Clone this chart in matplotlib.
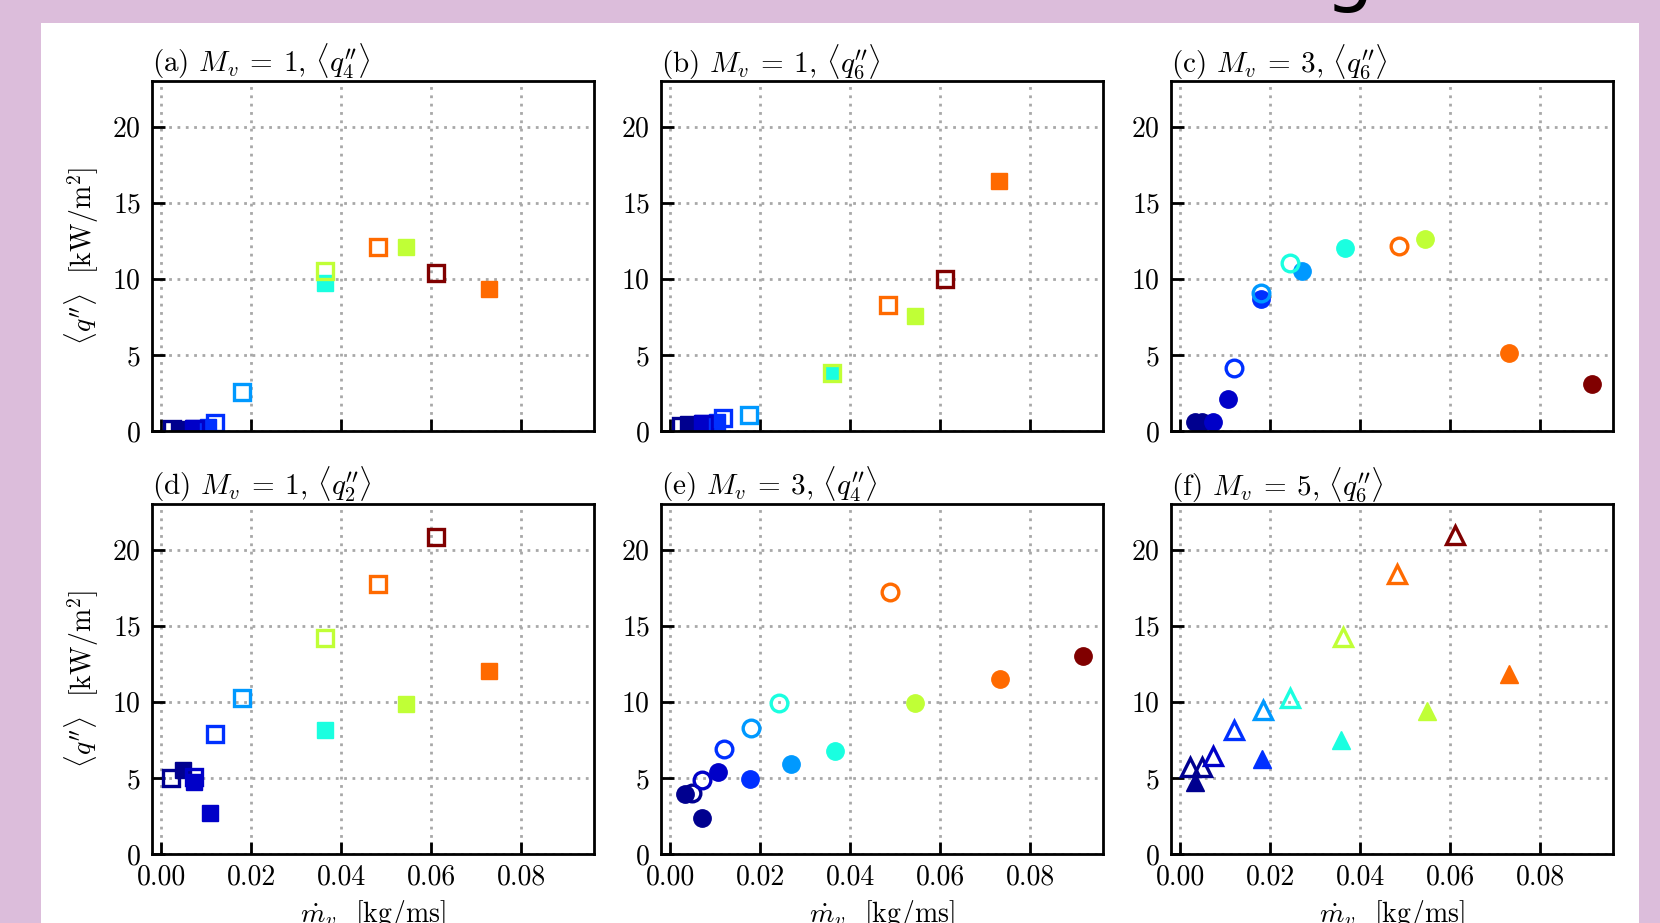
import matplotlib.pyplot as plt
from matplotlib.patches import Rectangle

plt.rcParams['font.family'] = 'serif'
plt.rcParams['font.serif'] = ['cmr10']
plt.rcParams['mathtext.fontset'] = 'cm'
plt.rcParams['axes.unicode_minus'] = False
plt.rcParams['axes.formatter.use_mathtext'] = True

# colour of each case (dark blue -> dark red)
case_colors = ['#00008f', '#0000c8', '#0030ff', '#0099ff',
               '#1affe0', '#c0ff36', '#ff6a00', '#800000']

# (a) M_v = 1, <q4''>
a_x = [0.0025, 0.0040, 0.0072, 0.0075, 0.0105, 0.0120, 0.0179,
       0.0364, 0.0364, 0.0483, 0.0544, 0.0612, 0.0729]
a_y = [0.10, 0.15, 0.20, 0.15, 0.25, 0.50, 2.57,
       9.75, 10.54, 12.12, 12.08, 10.37, 9.31]
a_c = [0, 0, 1, 1, 2, 2, 3, 4, 5, 6, 5, 7, 6]
a_open = [1, 0, 0, 1, 0, 1, 1, 0, 1, 1, 0, 1, 0]

# (b) M_v = 1, <q6''>
b_x = [0.0025, 0.0040, 0.0072, 0.0075, 0.0105, 0.0117, 0.0176,
       0.0361, 0.0361, 0.0484, 0.0545, 0.0610, 0.0731]
b_y = [0.30, 0.45, 0.50, 0.45, 0.60, 0.86, 1.03,
       3.78, 3.80, 8.28, 7.55, 9.97, 16.40]
b_c = [0, 0, 1, 1, 2, 2, 3, 4, 5, 6, 5, 7, 6]
b_open = [1, 0, 0, 1, 0, 1, 1, 0, 1, 1, 0, 1, 0]

# (c) M_v = 3, <q6''>
c_x = [0.0033, 0.0048, 0.0073, 0.0107, 0.0121, 0.0179, 0.0181, 0.0244,
       0.0270, 0.0366, 0.0487, 0.0544, 0.0732, 0.0915]
c_y = [0.60, 0.60, 0.60, 2.09, 4.13, 8.65, 9.09, 11.06,
       10.54, 12.01, 12.16, 12.64, 5.10, 3.06]
c_c = [0, 0, 1, 1, 2, 2, 3, 4, 3, 4, 6, 5, 6, 7]
c_open = [0, 0, 0, 0, 1, 0, 1, 1, 0, 0, 1, 0, 0, 0]

# (d) M_v = 1, <q2''>
d_x = [0.0023, 0.0048, 0.0074, 0.0074, 0.0108, 0.0121, 0.0179,
       0.0364, 0.0364, 0.0483, 0.0544, 0.0612, 0.0729]
d_y = [4.99, 5.50, 5.06, 4.73, 2.70, 7.90, 10.24,
       8.17, 14.18, 17.75, 9.87, 20.80, 12.02]
d_c = [0, 0, 1, 1, 1, 2, 3, 4, 5, 6, 5, 7, 6]
d_open = [1, 0, 1, 0, 0, 1, 1, 0, 1, 1, 0, 1, 0]

# (e) M_v = 3, <q4''>
e_x = [0.0033, 0.0048, 0.0071, 0.0072, 0.0106, 0.0120, 0.0177, 0.0180,
       0.0243, 0.0268, 0.0366, 0.0489, 0.0544, 0.0733, 0.0917]
e_y = [3.97, 4.00, 2.38, 4.84, 5.39, 6.90, 4.92, 8.28,
       9.92, 5.89, 6.77, 17.25, 9.92, 11.49, 13.00]
e_c = [0, 0, 0, 1, 1, 2, 2, 3, 4, 3, 4, 6, 5, 6, 7]
e_open = [0, 1, 0, 1, 0, 1, 0, 1, 1, 0, 0, 1, 0, 0, 0]

# (f) M_v = 5, <q6''>
f_x = [0.0022, 0.0033, 0.0048, 0.0074, 0.0121, 0.0183, 0.0184,
       0.0244, 0.0358, 0.0362, 0.0483, 0.0548, 0.0610, 0.0731]
f_y = [5.71, 4.75, 5.71, 6.41, 8.17, 6.26, 9.44,
       10.27, 7.47, 14.25, 18.41, 9.39, 20.95, 11.84]
f_c = [0, 0, 0, 1, 2, 2, 3, 4, 4, 5, 6, 5, 7, 6]
f_open = [1, 0, 1, 1, 1, 0, 1, 1, 0, 1, 1, 0, 1, 0]

titles = [r"(a) $M_v\:=\:1$, $\langle q^{\prime\prime}_4 \rangle$",
          r"(b) $M_v\:=\:1$, $\langle q^{\prime\prime}_6 \rangle$",
          r"(c) $M_v\:=\:3$, $\langle q^{\prime\prime}_6 \rangle$",
          r"(d) $M_v\:=\:1$, $\langle q^{\prime\prime}_2 \rangle$",
          r"(e) $M_v\:=\:3$, $\langle q^{\prime\prime}_4 \rangle$",
          r"(f) $M_v\:=\:5$, $\langle q^{\prime\prime}_6 \rangle$"]
panels = [(a_x, a_y, a_c, a_open, 's'), (b_x, b_y, b_c, b_open, 's'),
          (c_x, c_y, c_c, c_open, 'o'), (d_x, d_y, d_c, d_open, 's'),
          (e_x, e_y, e_c, e_open, 'o'), (f_x, f_y, f_c, f_open, '^')]

W, H = 1660, 923
fig = plt.figure(figsize=(W / 100, H / 100), dpi=100, facecolor='#dcbddb')
fig.add_artist(Rectangle((41 / W, 0), (1639 - 41) / W, (H - 23) / H,
                         transform=fig.transFigure, facecolor='white',
                         edgecolor='none', zorder=0))
# bottom of the slide title, cut by the top edge
fig.text(1349 / W, 1 + 3 / H, 'g', fontsize=56, family='DejaVu Sans',
         ha='center', va='baseline', color='black')

lefts = [152, 661, 1171]
tops = [81, 504]
aw, ah = 442, 350
sizes = {'s': 12, 'o': 12.5, '^': 13}

for i, (xs, ys, cs, opens, mk) in enumerate(panels):
    row, col = divmod(i, 3)
    ax = fig.add_axes([lefts[col] / W, 1 - (tops[row] + ah) / H, aw / W, ah / H])
    ms = sizes[mk]
    # filled markers first, open ones on top
    for want_open in (0, 1):
        for x, y, c, o in zip(xs, ys, cs, opens):
            if o != want_open:
                continue
            col_ = case_colors[c]
            if o:
                ax.plot(x, y, mk, ms=ms - 0.5, mfc='none', mec=col_, mew=2.4)
            else:
                ax.plot(x, y, mk, ms=ms, mfc=col_, mec=col_, mew=1.0)

    ax.set_xlim(-0.002, 0.0962)
    ax.set_ylim(0, 23)
    ax.set_xticks([0.0, 0.02, 0.04, 0.06, 0.08])
    ax.set_yticks([0, 5, 10, 15, 20])
    ax.grid(True, linestyle=(0, (1, 2)), color='#a8a8a8', linewidth=2.0)
    ax.set_axisbelow(True)
    for s in ax.spines.values():
        s.set_linewidth(2.0)
    ax.tick_params(direction='in', length=9, width=2.0, labelsize=20)
    ax.tick_params(axis='y', pad=8)
    ax.tick_params(axis='x', pad=7)
    ax.xaxis.set_major_formatter(plt.FormatStrFormatter('%.2f'))
    ax.set_title(titles[i], loc='left', fontsize=21, pad=3)
    if row == 0:
        ax.tick_params(axis='x', labelbottom=False)
    else:
        ax.set_xlabel(r"$\dot{m}_v$  [kg/ms]", fontsize=20, labelpad=6)
    if col == 0:
        ax.set_ylabel(r"$\langle q^{\prime\prime} \rangle$  [kW/m$^2$]",
                      fontsize=20, labelpad=8)

fig.savefig('out.png', dpi=100, facecolor=fig.get_facecolor())
